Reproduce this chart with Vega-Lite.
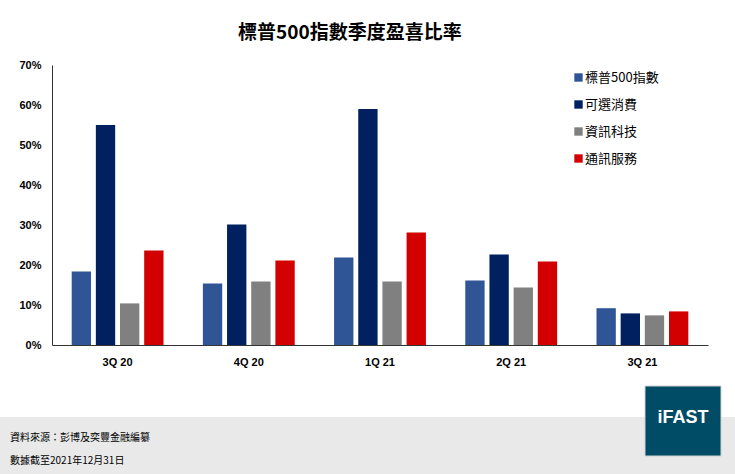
{
  "$schema": "https://vega.github.io/schema/vega-lite/v6.json",
  "background": "#ffffff",
  "padding": {"top": 24, "left": 0, "right": 0, "bottom": 0},
  "title": {
    "text": "標普500指數季度盈喜比率",
    "anchor": "start",
    "dx": 238,
    "offset": 16,
    "font": "Noto Sans CJK TC",
    "fontSize": 19,
    "fontWeight": "bold",
    "color": "#000000"
  },
  "config": {
    "view": {"stroke": null},
    "font": "Liberation Sans",
    "axis": {"labelFont": "Liberation Sans", "titleFont": "Liberation Sans"},
    "legend": {"labelFont": "Noto Sans CJK TC"}
  },
  "spacing": 18,
  "vconcat": [
    {
      "width": 656,
      "height": 280,
      "data": {
        "values": [
          {"quarter": "3Q 20", "sector": "標普500指數", "value": 18.4},
          {"quarter": "3Q 20", "sector": "可選消費", "value": 55.0},
          {"quarter": "3Q 20", "sector": "資訊科技", "value": 10.4},
          {"quarter": "3Q 20", "sector": "通訊服務", "value": 23.6},
          {"quarter": "4Q 20", "sector": "標普500指數", "value": 15.4},
          {"quarter": "4Q 20", "sector": "可選消費", "value": 30.1},
          {"quarter": "4Q 20", "sector": "資訊科技", "value": 15.9},
          {"quarter": "4Q 20", "sector": "通訊服務", "value": 21.1},
          {"quarter": "1Q 21", "sector": "標普500指數", "value": 21.9},
          {"quarter": "1Q 21", "sector": "可選消費", "value": 59.0},
          {"quarter": "1Q 21", "sector": "資訊科技", "value": 15.9},
          {"quarter": "1Q 21", "sector": "通訊服務", "value": 28.1},
          {"quarter": "2Q 21", "sector": "標普500指數", "value": 16.1},
          {"quarter": "2Q 21", "sector": "可選消費", "value": 22.6},
          {"quarter": "2Q 21", "sector": "資訊科技", "value": 14.4},
          {"quarter": "2Q 21", "sector": "通訊服務", "value": 20.9},
          {"quarter": "3Q 21", "sector": "標普500指數", "value": 9.2},
          {"quarter": "3Q 21", "sector": "可選消費", "value": 7.9},
          {"quarter": "3Q 21", "sector": "資訊科技", "value": 7.4},
          {"quarter": "3Q 21", "sector": "通訊服務", "value": 8.4}
        ]
      },
      "mark": {"type": "bar"},
      "encoding": {
        "x": {
          "field": "quarter",
          "type": "nominal",
          "sort": ["3Q 20", "4Q 20", "1Q 21", "2Q 21", "3Q 21"],
          "scale": {"paddingInner": 0.3, "paddingOuter": 0.15},
          "axis": {
            "title": null,
            "labelAngle": 0,
            "ticks": false,
            "domainColor": "#333333",
            "labelFontWeight": "bold",
            "labelFontSize": 11,
            "labelColor": "#000000",
            "labelPadding": 11
          }
        },
        "xOffset": {
          "field": "sector",
          "sort": ["標普500指數", "可選消費", "資訊科技", "通訊服務"],
          "scale": {"paddingInner": 0.2}
        },
        "y": {
          "field": "value",
          "type": "quantitative",
          "scale": {"domain": [0, 70]},
          "axis": {
            "title": null,
            "grid": false,
            "ticks": false,
            "values": [0, 10, 20, 30, 40, 50, 60, 70],
            "labelExpr": "datum.value + '%'",
            "domainColor": "#333333",
            "labelFontWeight": "bold",
            "labelFontSize": 11,
            "labelColor": "#000000",
            "labelPadding": 11,
            "minExtent": 52
          }
        },
        "color": {
          "field": "sector",
          "type": "nominal",
          "scale": {
            "domain": ["標普500指數", "可選消費", "資訊科技", "通訊服務"],
            "range": ["#2F5597", "#00205F", "#808080", "#D20000"]
          },
          "legend": {
            "title": null,
            "orient": "none",
            "legendX": 520,
            "legendY": 6,
            "symbolType": "square",
            "symbolSize": 70,
            "symbolStrokeWidth": 0,
            "labelFontSize": 13,
            "labelColor": "#000000",
            "labelOffset": 0,
            "rowPadding": 13
          }
        }
      }
    },
    {
      "width": 683,
      "height": 88,
      "layer": [
        {
          "data": {"values": [{"part": "band"}]},
          "mark": {"type": "rect", "fill": "#e9e9e9"},
          "encoding": {
            "x": {"value": -52},
            "x2": {"value": "width"},
            "y": {"value": 31},
            "y2": {"value": "height"}
          }
        },
        {
          "data": {
            "values": [
              {"line": 1, "text": "資料來源：彭博及奕豐金融編纂"},
              {"line": 2, "text": "數據截至2021年12月31日"}
            ]
          },
          "mark": {
            "type": "text",
            "align": "left",
            "baseline": "middle",
            "font": "Noto Sans CJK TC",
            "fontSize": 10,
            "color": "#000000"
          },
          "encoding": {
            "x": {"value": -42},
            "y": {"field": "line", "type": "ordinal", "scale": {"range": [52, 75], "padding": 0}, "axis": null},
            "text": {"field": "text"}
          }
        },
        {
          "data": {"values": [{"logo": "iFAST"}]},
          "layer": [
            {
              "mark": {"type": "rect", "fill": "#004B66", "stroke": "#d0d0d0", "strokeWidth": 1},
              "encoding": {
                "x": {"value": 593},
                "x2": {"value": 669},
                "y": {"value": 0},
                "y2": {"value": 70}
              }
            },
            {
              "mark": {
                "type": "text",
                "align": "center",
                "baseline": "middle",
                "font": "Liberation Sans",
                "fontSize": 18,
                "fontWeight": "bold",
                "color": "#ffffff"
              },
              "encoding": {
                "x": {"value": 631},
                "y": {"value": 32},
                "text": {"field": "logo"}
              }
            }
          ]
        }
      ]
    }
  ]
}
